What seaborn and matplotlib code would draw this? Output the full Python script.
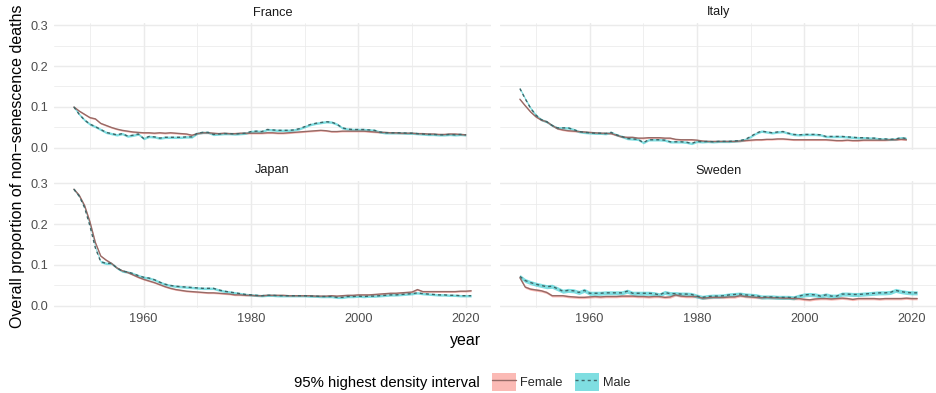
import numpy as np
import pandas as pd
import matplotlib
matplotlib.use("Agg")
import matplotlib.pyplot as plt
from matplotlib.patches import Patch
from matplotlib.lines import Line2D
from matplotlib.ticker import FixedLocator
import seaborn as sns

# ---------------------------------------------------------------- data
countries = ["France", "Italy", "Japan", "Sweden"]
sexes = ["Female", "Male"]
first_year = 1947

france_female = [
    0.100, 0.090, 0.082, 0.074, 0.071, 0.060, 0.055, 0.050, 0.046, 0.043,
    0.041, 0.039, 0.038, 0.037, 0.037, 0.036, 0.037, 0.036, 0.037, 0.036,
    0.035, 0.034, 0.031, 0.035, 0.037, 0.037, 0.036, 0.035, 0.036, 0.035,
    0.035, 0.036, 0.036, 0.036, 0.036, 0.036, 0.037, 0.037, 0.036, 0.036,
    0.037, 0.038, 0.039, 0.040, 0.041, 0.042, 0.043, 0.042, 0.040, 0.040,
    0.041, 0.041, 0.041, 0.041, 0.041, 0.040, 0.039, 0.038, 0.038, 0.037,
    0.037, 0.036, 0.036, 0.036, 0.035, 0.035, 0.034, 0.034, 0.033, 0.033,
    0.034, 0.034, 0.033, 0.032,
]
france_male = [
    0.100, 0.082, 0.068, 0.058, 0.052, 0.045, 0.038, 0.035, 0.032, 0.035,
    0.029, 0.031, 0.034, 0.023, 0.028, 0.027, 0.024, 0.026, 0.026, 0.026,
    0.026, 0.027, 0.027, 0.036, 0.038, 0.038, 0.033, 0.034, 0.035, 0.035,
    0.034, 0.035, 0.036, 0.040, 0.041, 0.040, 0.045, 0.044, 0.043, 0.043,
    0.043, 0.044, 0.047, 0.052, 0.057, 0.060, 0.062, 0.064, 0.063, 0.058,
    0.049, 0.046, 0.045, 0.045, 0.045, 0.044, 0.043, 0.039, 0.037, 0.037,
    0.037, 0.037, 0.036, 0.036, 0.035, 0.034, 0.033, 0.033, 0.032, 0.032,
    0.033, 0.032, 0.033, 0.032,
]
italy_female = [
    0.119, 0.103, 0.088, 0.076, 0.068, 0.064, 0.055, 0.047, 0.044, 0.042,
    0.041, 0.040, 0.039, 0.038, 0.037, 0.036, 0.036, 0.035, 0.031, 0.027,
    0.026, 0.026, 0.024, 0.024, 0.025, 0.025, 0.025, 0.024, 0.024, 0.021,
    0.020, 0.020, 0.020, 0.019, 0.017, 0.016, 0.016, 0.016, 0.016, 0.016,
    0.016, 0.017, 0.018, 0.019, 0.020, 0.020, 0.021, 0.021, 0.022, 0.022,
    0.021, 0.020, 0.020, 0.020, 0.020, 0.020, 0.020, 0.020, 0.019, 0.018,
    0.018, 0.019, 0.018, 0.018, 0.019, 0.019, 0.019, 0.019, 0.019, 0.020,
    0.020, 0.021, 0.020,
]
italy_male = [
    0.145, 0.120, 0.097, 0.080, 0.069, 0.064, 0.055, 0.049, 0.049, 0.049,
    0.045, 0.040, 0.038, 0.037, 0.036, 0.036, 0.035, 0.038, 0.032, 0.028,
    0.023, 0.022, 0.021, 0.013, 0.020, 0.020, 0.020, 0.019, 0.015, 0.015,
    0.015, 0.014, 0.011, 0.016, 0.015, 0.016, 0.015, 0.016, 0.016, 0.016,
    0.017, 0.018, 0.021, 0.028, 0.036, 0.041, 0.039, 0.037, 0.039, 0.040,
    0.036, 0.033, 0.032, 0.033, 0.033, 0.033, 0.032, 0.028, 0.028, 0.028,
    0.028, 0.027, 0.026, 0.025, 0.025, 0.024, 0.024, 0.022, 0.022, 0.021,
    0.022, 0.025, 0.023,
]
japan_female = [
    0.285, 0.270, 0.245, 0.205, 0.155, 0.122, 0.112, 0.104, 0.093, 0.086,
    0.082, 0.076, 0.070, 0.065, 0.061, 0.057, 0.052, 0.047, 0.043, 0.040,
    0.038, 0.036, 0.035, 0.034, 0.033, 0.032, 0.032, 0.031, 0.030, 0.029,
    0.027, 0.027, 0.026, 0.026, 0.025, 0.025, 0.026, 0.026, 0.026, 0.026,
    0.025, 0.025, 0.025, 0.025, 0.025, 0.024, 0.024, 0.024, 0.025, 0.024,
    0.025, 0.026, 0.026, 0.027, 0.027, 0.027, 0.028, 0.029, 0.030, 0.031,
    0.031, 0.032, 0.033, 0.034, 0.040, 0.035, 0.035, 0.035, 0.035, 0.035,
    0.035, 0.035, 0.036, 0.036, 0.037,
]
japan_male = [
    0.285, 0.268, 0.240, 0.195, 0.142, 0.108, 0.104, 0.104, 0.093, 0.085,
    0.083, 0.079, 0.074, 0.070, 0.068, 0.064, 0.058, 0.053, 0.050, 0.048,
    0.047, 0.046, 0.045, 0.044, 0.043, 0.043, 0.043, 0.039, 0.036, 0.034,
    0.032, 0.030, 0.028, 0.027, 0.026, 0.025, 0.026, 0.026, 0.025, 0.025,
    0.025, 0.025, 0.025, 0.025, 0.024, 0.024, 0.023, 0.023, 0.023, 0.021,
    0.021, 0.023, 0.023, 0.024, 0.023, 0.024, 0.024, 0.025, 0.026, 0.027,
    0.027, 0.028, 0.029, 0.030, 0.032, 0.030, 0.029, 0.028, 0.027, 0.027,
    0.026, 0.026, 0.025, 0.025, 0.025,
]
sweden_female = [
    0.069, 0.046, 0.041, 0.039, 0.037, 0.033, 0.025, 0.025, 0.025, 0.023,
    0.022, 0.021, 0.021, 0.022, 0.023, 0.022, 0.023, 0.023, 0.023, 0.024,
    0.024, 0.024, 0.023, 0.023, 0.022, 0.023, 0.023, 0.021, 0.022, 0.027,
    0.024, 0.023, 0.023, 0.023, 0.019, 0.020, 0.021, 0.021, 0.021, 0.022,
    0.022, 0.025, 0.023, 0.022, 0.021, 0.020, 0.021, 0.020, 0.020, 0.019,
    0.019, 0.018, 0.018, 0.016, 0.015, 0.017, 0.018, 0.018, 0.017, 0.018,
    0.019, 0.018, 0.016, 0.018, 0.018, 0.018, 0.018, 0.017, 0.018, 0.018,
    0.018, 0.018, 0.019, 0.018, 0.018,
]
sweden_male = [
    0.072, 0.062, 0.057, 0.053, 0.050, 0.047, 0.048, 0.042, 0.036, 0.038,
    0.037, 0.033, 0.038, 0.031, 0.031, 0.031, 0.032, 0.032, 0.032, 0.032,
    0.036, 0.031, 0.031, 0.031, 0.031, 0.030, 0.027, 0.033, 0.030, 0.030,
    0.029, 0.029, 0.028, 0.024, 0.021, 0.023, 0.024, 0.024, 0.025, 0.027,
    0.028, 0.029, 0.027, 0.026, 0.025, 0.022, 0.022, 0.022, 0.021, 0.021,
    0.021, 0.020, 0.024, 0.027, 0.028, 0.027, 0.024, 0.027, 0.024, 0.024,
    0.029, 0.029, 0.028, 0.028, 0.029, 0.030, 0.031, 0.032, 0.032, 0.033,
    0.038, 0.035, 0.033, 0.032, 0.032,
]

# half-width of the 95% highest density interval, per country (Female, Male)
hdi_half_female = [0.002, 0.002, 0.002, 0.003]
hdi_half_male = [0.003, 0.003, 0.003, 0.005]

series = {
    ("France", "Female"): france_female, ("France", "Male"): france_male,
    ("Italy", "Female"): italy_female, ("Italy", "Male"): italy_male,
    ("Japan", "Female"): japan_female, ("Japan", "Male"): japan_male,
    ("Sweden", "Female"): sweden_female, ("Sweden", "Male"): sweden_male,
}

rows = []
for i, c in enumerate(countries):
    for s, half in zip(sexes, (hdi_half_female[i], hdi_half_male[i])):
        vals = series[(c, s)]
        for k, v in enumerate(vals):
            rows.append({"country": c, "sex": s, "year": first_year + k,
                         "value": v, "lo": v - half, "hi": v + half})
df = pd.DataFrame(rows)

# ---------------------------------------------------------------- style
sns.set_theme(style="white")
plt.rcParams["font.family"] = ["Liberation Sans", "DejaVu Sans"]

fill_colors = {"Female": "#F8766D", "Male": "#00BFC4"}
line_colors = {"Female": "#966a66", "Male": "#3E6668"}
line_dashes = {"Female": "", "Male": (2.2, 2.2)}
grid_col = "#EBEBEB"
tick_col = "#4D4D4D"
small_fs = 9.2
big_fs = 11.5
legend_title_fs = 10.7

W, H = 937, 393
fig = plt.figure(figsize=(W / 100, H / 100), dpi=100)
fig.patch.set_facecolor("white")

pw, ph = 437, 127
origins = {"France": (54, 23), "Italy": (500, 23),
           "Japan": (54, 181), "Sweden": (500, 181)}

for c in countries:
    x0, y0 = origins[c]
    ax = fig.add_axes([x0 / W, 1 - (y0 + ph) / H, pw / W, ph / H])
    sub = df[df["country"] == c]
    for s in sexes:
        d = sub[sub["sex"] == s]
        ax.fill_between(d["year"], d["lo"], d["hi"], color=fill_colors[s],
                        alpha=0.5, lw=0, zorder=2)
    sns.lineplot(data=sub, x="year", y="value", hue="sex", style="sex",
                 hue_order=sexes, style_order=sexes, palette=line_colors,
                 dashes=line_dashes, errorbar=None, legend=False,
                 linewidth=1.0, ax=ax, zorder=3)

    ax.set_xlim(1943.3, 2024.7)
    ax.set_ylim(-0.005, 0.305)
    ax.xaxis.set_major_locator(FixedLocator([1960, 1980, 2000, 2020]))
    ax.xaxis.set_minor_locator(FixedLocator([1950, 1970, 1990, 2010]))
    ax.yaxis.set_major_locator(FixedLocator([0.0, 0.1, 0.2, 0.3]))
    ax.yaxis.set_minor_locator(FixedLocator([0.05, 0.15, 0.25]))
    ax.grid(which="major", color=grid_col, linewidth=1.07)
    ax.grid(which="minor", color=grid_col, linewidth=0.55)
    ax.set_axisbelow(True)
    for sp in ax.spines.values():
        sp.set_visible(False)
    ax.tick_params(which="both", length=0, labelsize=small_fs,
                   labelcolor=tick_col)
    ax.tick_params(axis="y", pad=4.0)
    ax.tick_params(axis="x", pad=3.6)
    ax.set_xlabel("")
    ax.set_ylabel("")
    if c in ("France", "Italy"):
        ax.set_xticklabels([])
    else:
        ax.set_xticklabels(["1960", "1980", "2000", "2020"])
    if c in ("Italy", "Sweden"):
        ax.set_yticklabels([])
    else:
        ax.set_yticklabels(["0.0", "0.1", "0.2", "0.3"])

    fig.text((x0 + pw / 2) / W, 1 - (y0 - 10.5) / H, c, ha="center",
             va="center", fontsize=small_fs, color="#1A1A1A")

fig.text(18 / W, 1 - 166 / H, "Overall proportion of non\u2212senescence deaths",
         rotation=90, ha="center", va="center", fontsize=big_fs, color="black")
fig.text(466 / W, 1 - 340 / H, "year", ha="center", va="center",
         fontsize=big_fs, color="black")

# legend
fig.text(294 / W, 1 - 383 / H, "95% highest density interval", ha="left",
         va="center", fontsize=legend_title_fs, color="black")
handles = []
for s in sexes:
    patch = Patch(facecolor=fill_colors[s], alpha=0.5, edgecolor="none")
    line = Line2D([], [], color=line_colors[s], linewidth=1.0,
                  linestyle=(0, line_dashes[s]) if line_dashes[s] else "-")
    handles.append((patch, line))
fig.legend(handles, sexes, loc="center left",
           bbox_to_anchor=(492 / W, 1 - 382 / H), ncol=2, frameon=False,
           fontsize=small_fs, handlelength=1.88, handleheight=1.72,
           handletextpad=0.3, columnspacing=1.0, borderpad=0,
           borderaxespad=0)

fig.savefig("out.png", dpi=100, facecolor="white")
